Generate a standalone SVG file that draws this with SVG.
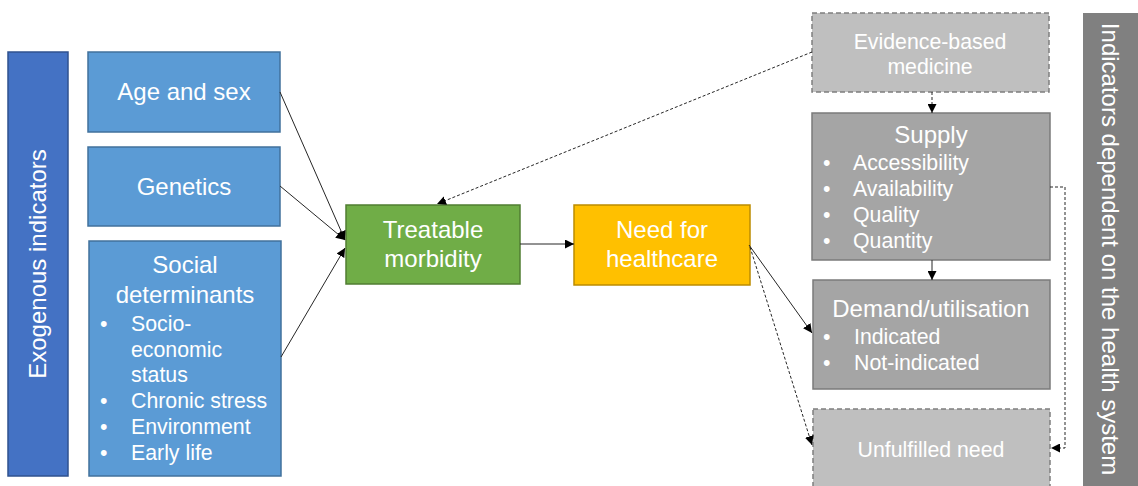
<svg xmlns="http://www.w3.org/2000/svg" width="1138" height="486" viewBox="0 0 1138 486">
<style>
text{font-family:"Liberation Sans",Arial,sans-serif;fill:#ffffff}
.t24{font-size:24px}
.t21{font-size:21.3px}
.mid{text-anchor:middle}
.blue{fill:#5B9BD5;stroke:#41719C;stroke-width:1.5}
.gray{fill:#A5A5A5;stroke:#7B7B7B;stroke-width:1.5}
.lgray{fill:#BFBFBF;stroke:#7F7F7F;stroke-width:1.5;stroke-dasharray:5,3}
.line{fill:none;stroke:#262626;stroke-width:1}
.dash{fill:none;stroke:#262626;stroke-width:1;stroke-dasharray:3,2}
</style>
<defs>
<marker id="ah" viewBox="0 0 10 10" refX="10" refY="5" markerWidth="9" markerHeight="9" markerUnits="userSpaceOnUse" orient="auto">
<path d="M0,0 L10,5 L0,10 Z" fill="#000"/>
</marker>
</defs>
<rect width="1138" height="486" fill="#ffffff"/>
<g id="exogenous">
<rect x="8" y="52" width="60" height="424" fill="#4472C4" stroke="#2F528F" stroke-width="1.5"/>
<text class="t24 mid" transform="translate(46,264) rotate(-90)">Exogenous indicators</text>
</g>
<g id="age">
<rect class="blue" x="88" y="52" width="192" height="80"/>
<text class="t24 mid" x="184" y="100">Age and sex</text>
</g>
<g id="genetics">
<rect class="blue" x="88" y="147" width="192" height="79"/>
<text class="t24 mid" x="184" y="195">Genetics</text>
</g>
<g id="social">
<rect class="blue" x="89" y="241" width="192" height="235"/>
<text class="t24 mid" x="185" y="273">Social</text>
<text class="t24 mid" x="185" y="303">determinants</text>
<g class="t21">
<text x="100" y="331">•</text><text x="131" y="331">Socio-</text>
<text x="131" y="357">economic</text>
<text x="131" y="382">status</text>
<text x="100" y="408">•</text><text x="131" y="408">Chronic stress</text>
<text x="100" y="434">•</text><text x="131" y="434">Environment</text>
<text x="100" y="460">•</text><text x="131" y="460">Early life</text>
</g>
</g>
<g id="treatable">
<rect x="346" y="205" width="174" height="79" fill="#70AD47" stroke="#507E32" stroke-width="1.5"/>
<text class="t24 mid" x="433" y="238">Treatable</text>
<text class="t24 mid" x="433" y="267">morbidity</text>
</g>
<g id="need">
<rect x="574" y="205" width="176" height="80" fill="#FFC000" stroke="#BC8C00" stroke-width="1.5"/>
<text class="t24 mid" x="662" y="238">Need for</text>
<text class="t24 mid" x="662" y="267">healthcare</text>
</g>
<g id="evidence">
<rect class="lgray" x="812" y="13" width="237" height="79"/>
<text class="t21 mid" x="930" y="49" fill="#F2F2F2">Evidence-based</text>
<text class="t21 mid" x="930" y="74" fill="#F2F2F2">medicine</text>
</g>
<g id="supply">
<rect class="gray" x="812" y="113" width="238" height="147"/>
<text class="t24 mid" x="931" y="143">Supply</text>
<g class="t21">
<text x="823" y="170">•</text><text x="853" y="170">Accessibility</text>
<text x="823" y="196">•</text><text x="853" y="196">Availability</text>
<text x="823" y="222">•</text><text x="853" y="222">Quality</text>
<text x="823" y="248">•</text><text x="853" y="248">Quantity</text>
</g>
</g>
<g id="demand">
<rect class="gray" x="813" y="280" width="237" height="109"/>
<text class="t24 mid" x="931" y="317">Demand/utilisation</text>
<g class="t21">
<text x="823" y="344">•</text><text x="854" y="344">Indicated</text>
<text x="823" y="370">•</text><text x="854" y="370">Not-indicated</text>
</g>
</g>
<g id="unfulfilled">
<rect class="lgray" x="813" y="409" width="237" height="90"/>
<text class="t21 mid" x="931" y="457" fill="#F2F2F2">Unfulfilled need</text>
</g>
<g id="health-system">
<rect x="1083" y="13" width="60" height="480" fill="#808080"/>
<text class="t24 mid" transform="translate(1102,249) rotate(90)">Indicators dependent on the health system</text>
</g>
<g id="connectors">
<line class="line" x1="280" y1="92" x2="345" y2="240" marker-end="url(#ah)"/>
<line class="line" x1="280" y1="186" x2="345" y2="240" marker-end="url(#ah)"/>
<line class="line" x1="281" y1="357" x2="345" y2="248" marker-end="url(#ah)"/>
<line class="line" x1="520" y1="244" x2="574" y2="244" marker-end="url(#ah)"/>
<line class="dash" x1="812" y1="52" x2="437" y2="204" marker-end="url(#ah)"/>
<line class="dash" x1="932" y1="92" x2="932" y2="113" marker-end="url(#ah)"/>
<line class="line" x1="932" y1="260" x2="932" y2="280" marker-end="url(#ah)"/>
<line class="line" x1="749" y1="245" x2="812" y2="333" marker-end="url(#ah)"/>
<line class="dash" x1="750" y1="247" x2="812" y2="445" marker-end="url(#ah)"/>
<polyline class="dash" points="1050,187 1065,187 1065,448 1051,448" marker-end="url(#ah)"/>
</g>
</svg>
